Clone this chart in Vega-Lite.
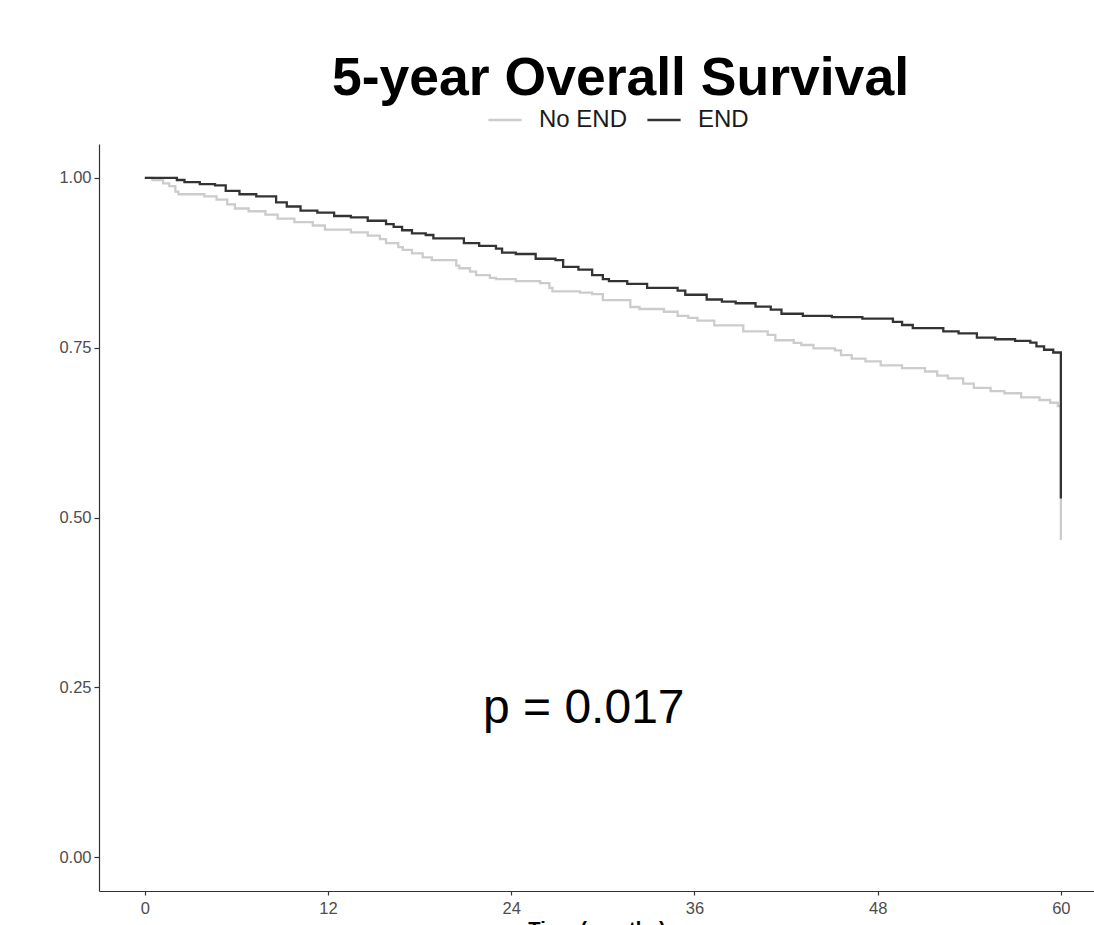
{
  "$schema": "https://vega.github.io/schema/vega-lite/v6.json",
  "width": 995,
  "height": 747,
  "autosize": {"type": "none"},
  "padding": {"left": 99, "top": 144, "right": 0, "bottom": 34},
  "background": "white",
  "config": {"view": {"stroke": null}, "font": "Liberation Sans"},
  "title": {
    "text": "5-year Overall Survival",
    "font": "Liberation Sans",
    "fontSize": 53.5,
    "fontWeight": "bold",
    "color": "#000000",
    "anchor": "middle",
    "dx": 24,
    "offset": -4
  },
  "datasets": {
    "km": [
      {"group": "No END", "t": 0, "s": 1.0},
      {"group": "No END", "t": 0.5, "s": 0.997},
      {"group": "No END", "t": 1.2, "s": 0.992},
      {"group": "No END", "t": 1.6, "s": 0.988},
      {"group": "No END", "t": 2.0, "s": 0.98},
      {"group": "No END", "t": 2.2, "s": 0.976},
      {"group": "No END", "t": 3.9, "s": 0.973},
      {"group": "No END", "t": 4.7, "s": 0.968},
      {"group": "No END", "t": 5.4, "s": 0.961},
      {"group": "No END", "t": 5.9, "s": 0.955},
      {"group": "No END", "t": 6.8, "s": 0.951},
      {"group": "No END", "t": 7.9, "s": 0.946},
      {"group": "No END", "t": 8.7, "s": 0.94},
      {"group": "No END", "t": 9.8, "s": 0.935},
      {"group": "No END", "t": 11.0, "s": 0.93},
      {"group": "No END", "t": 11.8, "s": 0.924},
      {"group": "No END", "t": 13.5, "s": 0.92},
      {"group": "No END", "t": 14.6, "s": 0.915},
      {"group": "No END", "t": 15.4, "s": 0.91},
      {"group": "No END", "t": 15.8, "s": 0.904},
      {"group": "No END", "t": 16.6, "s": 0.898},
      {"group": "No END", "t": 16.9, "s": 0.894},
      {"group": "No END", "t": 17.5, "s": 0.889},
      {"group": "No END", "t": 18.2, "s": 0.883},
      {"group": "No END", "t": 18.8, "s": 0.879},
      {"group": "No END", "t": 20.4, "s": 0.871},
      {"group": "No END", "t": 20.6, "s": 0.867},
      {"group": "No END", "t": 21.3, "s": 0.862},
      {"group": "No END", "t": 21.7, "s": 0.857},
      {"group": "No END", "t": 22.6, "s": 0.853},
      {"group": "No END", "t": 23.0, "s": 0.851},
      {"group": "No END", "t": 24.3, "s": 0.848},
      {"group": "No END", "t": 25.9, "s": 0.845},
      {"group": "No END", "t": 26.5, "s": 0.838},
      {"group": "No END", "t": 26.7, "s": 0.833},
      {"group": "No END", "t": 28.5, "s": 0.831},
      {"group": "No END", "t": 29.3, "s": 0.829},
      {"group": "No END", "t": 30.0, "s": 0.82},
      {"group": "No END", "t": 31.8, "s": 0.81},
      {"group": "No END", "t": 32.4, "s": 0.807},
      {"group": "No END", "t": 34.0, "s": 0.803},
      {"group": "No END", "t": 34.9, "s": 0.797},
      {"group": "No END", "t": 35.6, "s": 0.794},
      {"group": "No END", "t": 36.2, "s": 0.79},
      {"group": "No END", "t": 37.3, "s": 0.783},
      {"group": "No END", "t": 39.2, "s": 0.774},
      {"group": "No END", "t": 40.8, "s": 0.769},
      {"group": "No END", "t": 41.3, "s": 0.761},
      {"group": "No END", "t": 42.5, "s": 0.757},
      {"group": "No END", "t": 43.0, "s": 0.754},
      {"group": "No END", "t": 43.8, "s": 0.749},
      {"group": "No END", "t": 45.2, "s": 0.746},
      {"group": "No END", "t": 45.6, "s": 0.739},
      {"group": "No END", "t": 46.3, "s": 0.734},
      {"group": "No END", "t": 47.2, "s": 0.73},
      {"group": "No END", "t": 48.2, "s": 0.724},
      {"group": "No END", "t": 49.6, "s": 0.72},
      {"group": "No END", "t": 51.1, "s": 0.715},
      {"group": "No END", "t": 51.9, "s": 0.709},
      {"group": "No END", "t": 52.6, "s": 0.705},
      {"group": "No END", "t": 53.6, "s": 0.697},
      {"group": "No END", "t": 54.3, "s": 0.691},
      {"group": "No END", "t": 55.4, "s": 0.686},
      {"group": "No END", "t": 56.3, "s": 0.683},
      {"group": "No END", "t": 57.4, "s": 0.677},
      {"group": "No END", "t": 58.6, "s": 0.673},
      {"group": "No END", "t": 59.3, "s": 0.669},
      {"group": "No END", "t": 59.8, "s": 0.664},
      {"group": "No END", "t": 60.0, "s": 0.467},
      {"group": "END", "t": 0, "s": 1.0},
      {"group": "END", "t": 2.1, "s": 0.997},
      {"group": "END", "t": 2.6, "s": 0.994},
      {"group": "END", "t": 3.6, "s": 0.991},
      {"group": "END", "t": 4.6, "s": 0.989},
      {"group": "END", "t": 5.3, "s": 0.981},
      {"group": "END", "t": 6.2, "s": 0.976},
      {"group": "END", "t": 7.3, "s": 0.973},
      {"group": "END", "t": 8.6, "s": 0.964},
      {"group": "END", "t": 9.3, "s": 0.958},
      {"group": "END", "t": 10.2, "s": 0.952},
      {"group": "END", "t": 11.3, "s": 0.949},
      {"group": "END", "t": 12.4, "s": 0.944},
      {"group": "END", "t": 13.5, "s": 0.942},
      {"group": "END", "t": 14.6, "s": 0.937},
      {"group": "END", "t": 15.8, "s": 0.932},
      {"group": "END", "t": 16.3, "s": 0.928},
      {"group": "END", "t": 16.85, "s": 0.923},
      {"group": "END", "t": 17.5, "s": 0.9185},
      {"group": "END", "t": 18.4, "s": 0.916},
      {"group": "END", "t": 18.9, "s": 0.911},
      {"group": "END", "t": 20.9, "s": 0.904},
      {"group": "END", "t": 21.9, "s": 0.9},
      {"group": "END", "t": 23.0, "s": 0.896},
      {"group": "END", "t": 23.4, "s": 0.89},
      {"group": "END", "t": 24.3, "s": 0.888},
      {"group": "END", "t": 25.6, "s": 0.881},
      {"group": "END", "t": 26.9, "s": 0.879},
      {"group": "END", "t": 27.4, "s": 0.869},
      {"group": "END", "t": 28.4, "s": 0.865},
      {"group": "END", "t": 29.3, "s": 0.857},
      {"group": "END", "t": 30.0, "s": 0.851},
      {"group": "END", "t": 30.4, "s": 0.848},
      {"group": "END", "t": 31.6, "s": 0.844},
      {"group": "END", "t": 32.9, "s": 0.838},
      {"group": "END", "t": 34.9, "s": 0.834},
      {"group": "END", "t": 35.4, "s": 0.828},
      {"group": "END", "t": 36.8, "s": 0.821},
      {"group": "END", "t": 37.8, "s": 0.818},
      {"group": "END", "t": 38.7, "s": 0.8155},
      {"group": "END", "t": 40.0, "s": 0.8105},
      {"group": "END", "t": 41.0, "s": 0.806},
      {"group": "END", "t": 41.7, "s": 0.8},
      {"group": "END", "t": 43.1, "s": 0.797},
      {"group": "END", "t": 45.0, "s": 0.795},
      {"group": "END", "t": 47.0, "s": 0.793},
      {"group": "END", "t": 49.0, "s": 0.788},
      {"group": "END", "t": 49.6, "s": 0.7835},
      {"group": "END", "t": 50.3, "s": 0.779},
      {"group": "END", "t": 52.3, "s": 0.774},
      {"group": "END", "t": 53.3, "s": 0.771},
      {"group": "END", "t": 54.5, "s": 0.765},
      {"group": "END", "t": 55.7, "s": 0.7625},
      {"group": "END", "t": 57.0, "s": 0.76},
      {"group": "END", "t": 58.0, "s": 0.7575},
      {"group": "END", "t": 58.4, "s": 0.752},
      {"group": "END", "t": 58.9, "s": 0.747},
      {"group": "END", "t": 59.5, "s": 0.743},
      {"group": "END", "t": 60.0, "s": 0.528}
    ],
    "note": [
      {"t": 28.75, "s": 0.197, "label": "p = 0.017"}
    ]
  },
  "layer": [
    {
      "data": {"name": "km"},
      "mark": {"type": "line", "interpolate": "step-after", "strokeWidth": 2.3},
      "encoding": {
        "x": {
          "field": "t",
          "type": "quantitative",
          "scale": {"domain": [-3, 62.17], "nice": false, "zero": false},
          "axis": {
            "values": [0, 12, 24, 36, 48, 60],
            "title": "Time (months)",
            "titleFont": "Liberation Sans",
            "titleFontSize": 20,
            "titleFontWeight": "bold",
            "titleColor": "#000000",
            "titleAnchor": "middle",
            "titlePadding": 3,
            "grid": false,
            "labelFont": "Liberation Sans",
            "labelFontSize": 16.5,
            "labelColor": "#4d4d4d",
            "labelPadding": 5,
            "labelFlush": false,
            "tickColor": "#333333",
            "tickSize": 4,
            "tickWidth": 1.2,
            "domainColor": "#333333",
            "domainWidth": 1.2
          }
        },
        "y": {
          "field": "s",
          "type": "quantitative",
          "scale": {"domain": [-0.05, 1.05], "nice": false, "zero": false},
          "axis": {
            "values": [0, 0.25, 0.5, 0.75, 1],
            "format": ".2f",
            "title": null,
            "grid": false,
            "labelFont": "Liberation Sans",
            "labelFontSize": 16.5,
            "labelColor": "#4d4d4d",
            "labelPadding": 3,
            "labelFlush": false,
            "tickColor": "#333333",
            "tickSize": 5,
            "tickWidth": 1.2,
            "domainColor": "#333333",
            "domainWidth": 1.2
          }
        },
        "color": {
          "field": "group",
          "type": "nominal",
          "scale": {"domain": ["No END", "END"], "range": ["#cccccc", "#333333"]},
          "legend": {
            "title": null,
            "orient": "none",
            "direction": "horizontal",
            "legendX": 388,
            "legendY": -42,
            "padding": 0,
            "symbolType": "stroke",
            "symbolSize": 1100,
            "symbolStrokeWidth": 2.5,
            "labelFont": "Liberation Sans",
            "labelFontSize": 24,
            "labelColor": "#1a1a1a",
            "labelOffset": 16,
            "columnPadding": 14
          }
        }
      }
    },
    {
      "data": {"name": "note"},
      "mark": {"type": "text", "font": "Liberation Sans", "fontSize": 48, "align": "center", "baseline": "alphabetic", "color": "#000000"},
      "encoding": {
        "x": {"field": "t", "type": "quantitative"},
        "y": {"field": "s", "type": "quantitative"},
        "text": {"field": "label"}
      }
    }
  ]
}
